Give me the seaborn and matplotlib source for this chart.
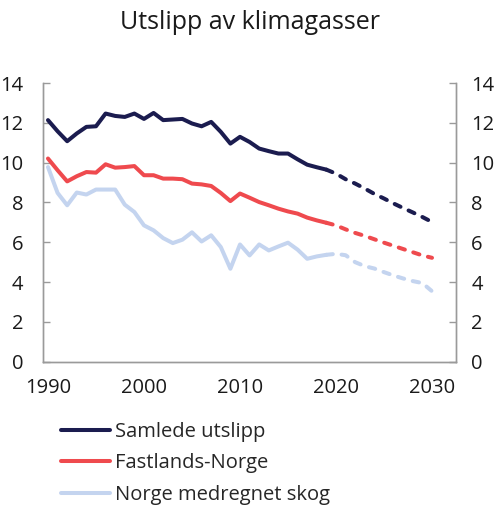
import numpy as np
import pandas as pd
import matplotlib
matplotlib.use("Agg")
import matplotlib.pyplot as plt
import seaborn as sns
from matplotlib.lines import Line2D

# Data (mill. tonn CO2-ekv.), lest av figuren
years_hist = list(range(1990, 2020))
years_proj = list(range(2019, 2031))

samlede_hist = [12.14, 11.58, 11.08, 11.47, 11.80, 11.83, 12.47, 12.35, 12.30, 12.47,
                12.20, 12.50, 12.14, 12.17, 12.20, 11.97, 11.83, 12.05, 11.55, 10.96,
                11.30, 11.04, 10.71, 10.58, 10.46, 10.46, 10.17, 9.90, 9.77, 9.65]
samlede_proj = [9.65, 9.45, 9.17, 8.95, 8.70, 8.43, 8.20, 7.95, 7.72, 7.50, 7.27, 7.02]

fastland_hist = [10.21, 9.62, 9.06, 9.32, 9.53, 9.50, 9.92, 9.75, 9.78, 9.83,
                 9.37, 9.37, 9.20, 9.20, 9.17, 8.95, 8.91, 8.83, 8.48, 8.07,
                 8.45, 8.24, 8.02, 7.86, 7.69, 7.55, 7.44, 7.24, 7.10, 6.98]
fastland_proj = [6.98, 6.85, 6.65, 6.47, 6.32, 6.15, 5.98, 5.82, 5.66, 5.50, 5.34, 5.22]

skog_hist = [9.78, 8.48, 7.86, 8.50, 8.40, 8.65, 8.65, 8.65, 7.89, 7.52,
             6.85, 6.60, 6.21, 5.96, 6.13, 6.50, 6.04, 6.35, 5.76, 4.67,
             5.89, 5.34, 5.89, 5.59, 5.79, 5.98, 5.63, 5.17, 5.29, 5.37]
skog_proj = [5.37, 5.42, 5.35, 5.00, 4.80, 4.68, 4.50, 4.33, 4.18, 4.05, 3.95, 3.54]

labels = ["Samlede utslipp", "Fastlands-Norge", "Norge medregnet skog"]
colors = ["#1b1c4f", "#ef4a4e", "#c4d4ef"]

sns.set_style("white")
plt.rcParams["font.family"] = ["Open Sans", "DejaVu Sans"]

fig = plt.figure(figsize=(5, 5.13), dpi=100)
ax = fig.add_axes([0.0854, 0.295, 0.8266, 0.543])

series = [(samlede_hist, samlede_proj), (fastland_hist, fastland_proj), (skog_hist, skog_proj)]
for (h, p), lab, col in zip(series, labels, colors):
    dh = pd.DataFrame({"year": years_hist, "value": h})
    dp = pd.DataFrame({"year": years_proj, "value": p})
    sns.lineplot(data=dh, x="year", y="value", color=col, linewidth=2.9, ax=ax,
                 solid_joinstyle="round", solid_capstyle="round")
    sns.lineplot(data=dp, x="year", y="value", color=col, linewidth=2.9, ax=ax,
                 linestyle=(0, (1.6, 2.2)), dash_capstyle="round")

ax.set_xlim(1989.45, 2032.5)
ax.set_ylim(0, 14)
ax.set_xticks([1990, 2000, 2010, 2020, 2030])
ax.set_yticks(range(0, 15, 2))
ax.set_xlabel("")
ax.set_ylabel("")

ax2 = ax.twinx()
ax2.set_ylim(0, 14)
ax2.set_yticks(range(0, 15, 2))

for a in (ax, ax2):
    a.spines["top"].set_visible(False)
    for s in ("left", "right", "bottom"):
        a.spines[s].set_color("#9a9a9a")
        a.spines[s].set_linewidth(1.0)

fs = 14.5
ax.tick_params(axis="x", length=0, pad=12, labelsize=fs, colors="#1a1a1a")
ax.tick_params(axis="y", direction="in", length=5, width=1, color="#9a9a9a",
               pad=14, labelsize=fs, labelcolor="#1a1a1a")
ax2.tick_params(axis="y", direction="in", length=5, width=1, color="#9a9a9a",
                pad=11, labelsize=fs, labelcolor="#1a1a1a")

fig.text(0.5, 1 - 23 / 513, "Utslipp av klimagasser", ha="center", va="center",
         fontsize=18, color="#1a1a1a")

handles = [Line2D([0], [0], color=c, linewidth=2.9) for c in colors]
fig.legend(handles, labels, loc="upper left", bbox_to_anchor=(0.122, 0.178),
           frameon=False, fontsize=fs, handlelength=2.45, handletextpad=0.25,
           labelspacing=0.57, borderaxespad=0, borderpad=0)

fig.savefig("out.png", dpi=100)
plt.close(fig)
